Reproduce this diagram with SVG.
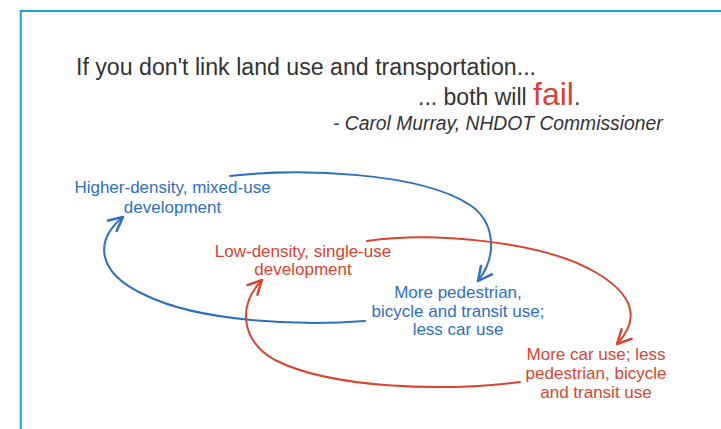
<svg xmlns="http://www.w3.org/2000/svg" width="721" height="429" viewBox="0 0 721 429">
  <defs>
    <style>
      .frame { fill: none; stroke: #1aa6d0; stroke-width: 2; }
      .quote { font-family: "Liberation Sans", Arial, sans-serif; fill: #333333; }
      .label { font-family: "Liberation Sans", Arial, sans-serif; font-size: 17px; text-anchor: middle; }
      .blue { fill: #2f6fbf; }
      .red { fill: #d6452f; }
      .loop { fill: none; stroke-width: 2; stroke-linecap: round; }
      .loop-blue { stroke: #2f6fbf; }
      .loop-red { stroke: #d6452f; }
    </style>
    <marker id="head-blue" markerUnits="userSpaceOnUse" markerWidth="20" markerHeight="20" refX="0" refY="0" viewBox="-12 -8 14 16" orient="auto">
      <path d="M-11,-5.5 L0,0 L-11,5.5" fill="none" stroke="#2f6fbf" stroke-width="2" stroke-linecap="round" stroke-linejoin="round"/>
    </marker>
    <marker id="head-red" markerUnits="userSpaceOnUse" markerWidth="20" markerHeight="20" refX="0" refY="0" viewBox="-12 -8 14 16" orient="auto">
      <path d="M-11,-5.5 L0,0 L-11,5.5" fill="none" stroke="#d6452f" stroke-width="2" stroke-linecap="round" stroke-linejoin="round"/>
    </marker>
  </defs>

  <rect width="721" height="429" fill="#ffffff"/>
  <path class="frame" d="M20.75,429 V11 H721"/>

  <!-- quotation -->
  <g id="quote">
    <text class="quote" x="76" y="75" font-size="23" textLength="460" lengthAdjust="spacingAndGlyphs">If you don't link land use and transportation...</text>
    <text class="quote" x="418" y="105" font-size="23">... both will <tspan font-size="32" fill="#d6452f">fail</tspan>.</text>
    <text class="quote" x="333" y="130" font-size="19.3" font-style="italic">- Carol Murray, NHDOT Commissioner</text>
  </g>

  <!-- feedback loops -->
  <g id="connectors">
    <path class="loop loop-blue" d="M230,176 C300,168 420,172 470,205 C495,222 498,255 478,281" marker-end="url(#head-blue)"/>
    <path class="loop loop-blue" d="M365,321 C300,326 200,322 145,295 C95,272 95,240 123,217" marker-end="url(#head-blue)"/>
    <path class="loop loop-red" d="M367,241 C430,232 540,240 595,272 C635,295 640,320 617,344" marker-end="url(#head-red)"/>
    <path class="loop loop-red" d="M520,382 C440,392 330,388 275,360 C240,340 238,305 262,280" marker-end="url(#head-red)"/>
  </g>

  <g id="node-high-density">
    <text class="label blue" x="172.5" y="193">Higher-density, mixed-use</text>
    <text class="label blue" x="172.5" y="213">development</text>
  </g>

  <g id="node-low-density">
    <text class="label red" x="303" y="257">Low-density, single-use</text>
    <text class="label red" x="303" y="275">development</text>
  </g>

  <g id="node-more-transit">
    <text class="label blue" x="458" y="298">More pedestrian,</text>
    <text class="label blue" x="458" y="317">bicycle and transit use;</text>
    <text class="label blue" x="458" y="335">less car use</text>
  </g>

  <g id="node-more-car">
    <text class="label red" x="596" y="360">More car use; less</text>
    <text class="label red" x="596" y="379">pedestrian, bicycle</text>
    <text class="label red" x="596" y="398">and transit use</text>
  </g>
</svg>
